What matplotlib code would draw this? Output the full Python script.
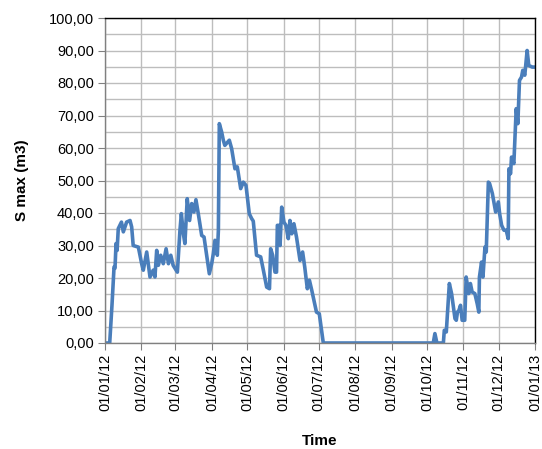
import numpy as np
import matplotlib
matplotlib.use('Agg')
import matplotlib.pyplot as plt
import matplotlib.dates as mdates
from matplotlib.ticker import MultipleLocator, FuncFormatter

plt.rcParams['font.family'] = ['Liberation Sans', 'DejaVu Sans']

# --- dados: dia do ano (0 = 01/01/12) e S max (m3) ---
dias = [0, 4, 6, 7.7, 8.5, 9.4, 10.3, 11.3, 14, 15.6, 18.4, 21.3, 22.7, 24, 28.4,
        31.2, 32.6, 35.5, 38.3, 41, 42.5, 44, 45.4, 47.4, 49.6, 52, 54, 56, 58,
        61.6, 63.8, 65, 66.7, 68, 70, 72, 73.8, 75.7, 77.4, 79.4, 82.3, 84.3,
        88.8, 90.8, 92.2, 93.6, 95.6, 96.5, 97.3, 99.3, 100.7, 102, 105.8, 107.8,
        110.6, 112.6, 115.5, 117.7, 120, 122.8, 124.8, 126.2, 129, 132.5, 134.8,
        137.6, 140, 141, 142.7, 144.7, 146, 146.7, 148.3, 149, 150.4, 152.3, 154,
        156, 157.4, 159, 160.8, 163, 166, 168.2, 170, 172.2, 174, 176, 180, 182.4,
        185.8, 279.4, 280.8, 282.5, 288, 288.8, 290.5, 293.1, 295, 297.9, 299,
        300, 301.2, 302.6, 304, 306.2, 307.4, 309.6, 311, 312.5, 314.8, 316.8,
        318.2, 318.7, 320.5, 321.7, 323.4, 324.5, 326.3, 327.4, 329.7, 332.5,
        334.8, 335.9, 337.6, 339.6, 341.5, 343.2, 343.8, 345.2, 346, 348, 350,
        351.4, 352.8, 354.5, 355.6, 357.3, 359.3, 360.7, 363.6, 365]
s_max = [0, 0, 12, 23.4, 23.0, 30.6, 28.5, 35.2, 37.2, 34.2, 37.2, 37.7, 35.7,
         30, 29.5, 24.4, 22.4, 28, 20.3, 22.4, 20.3, 28.5, 23.9, 27, 24.4, 29,
         24.4, 27, 23.9, 21.8, 34.7, 39.8, 33.6, 30.6, 44.4, 37.7, 42.9, 40.3,
         44.1, 39.8, 33.1, 32.6, 21.3, 24.4, 27.5, 31.6, 27, 34.7, 67.5, 64.9,
         62.4, 60.8, 62.4, 59.8, 53.6, 54.2, 47.5, 49.5, 48.5, 39.8, 38.3, 37.5,
         27, 26.5, 22.4, 17.2, 16.7, 29, 27, 21.8, 21.8, 36.2, 36.2, 30, 41.8,
         37.2, 36.2, 32.1, 37.7, 33.6, 36.7, 32.6, 25.4, 28, 23.4, 16.7, 19.3,
         16.2, 9.5, 9.0, 0, 0, 2.9, 0, 0, 3.9, 3.4, 18.3, 15.2, 7.5, 7.0, 9.5,
         10, 11.6, 7, 7, 20.3, 15.2, 18.3, 15.7, 15.2, 12.1, 9.5, 20.3, 24.9,
         20.3, 29.5, 28, 49.5, 49, 46, 40.3, 43.4, 39.8, 36.2, 34.7, 34.7, 32.1,
         53.6, 52.1, 57.2, 55.2, 72.1, 67.5, 80.8, 81.8, 83.9, 82.4, 90, 85.4,
         84.9, 84.9]

inicio = np.datetime64('2012-01-01')
datas = inicio + (np.array(dias) * 24 * 3600).astype('timedelta64[s]')
datas = datas.astype('datetime64[s]').astype(object)

fig = plt.figure(figsize=(5.42, 4.49), dpi=100)
ax = fig.add_axes([105 / 542, 1 - 343 / 449, 430 / 542, 325 / 449])

ax.plot(datas, s_max, color='#4a7ebb', linewidth=2.6, solid_joinstyle='round')

ax.set_xlim(mdates.date2num(np.datetime64('2012-01-01')),
            mdates.date2num(np.datetime64('2013-01-01')))
ax.set_ylim(0, 100)

ax.xaxis.set_major_locator(mdates.MonthLocator())
ax.xaxis.set_major_formatter(mdates.DateFormatter('%d/%m/%y'))
ax.yaxis.set_major_locator(MultipleLocator(10))
ax.yaxis.set_minor_locator(MultipleLocator(5))
ax.yaxis.set_major_formatter(FuncFormatter(lambda v, p: f'{v:.2f}'.replace('.', ',')))

ax.grid(True, which='major', color='#bdbdbd', linewidth=1.0)
ax.grid(True, which='minor', axis='y', color='#bdbdbd', linewidth=1.0)
ax.set_axisbelow(True)

for lado in ['top', 'right']:
    ax.spines[lado].set_color('black')
    ax.spines[lado].set_linewidth(1.0)
for lado in ['left', 'bottom']:
    ax.spines[lado].set_color('#808080')
    ax.spines[lado].set_linewidth(1.0)

ax.tick_params(axis='both', which='major', length=5, color='#808080',
               labelsize=10.5, labelcolor='black', pad=3)
ax.tick_params(axis='y', which='minor', length=0)
plt.setp(ax.get_xticklabels(), rotation=90)

ax.set_ylabel('S max (m3)', fontsize=11, fontweight='bold', labelpad=14)
ax.set_xlabel('Time', fontsize=11, fontweight='bold', labelpad=16)

fig.savefig('out.png', dpi=100)
